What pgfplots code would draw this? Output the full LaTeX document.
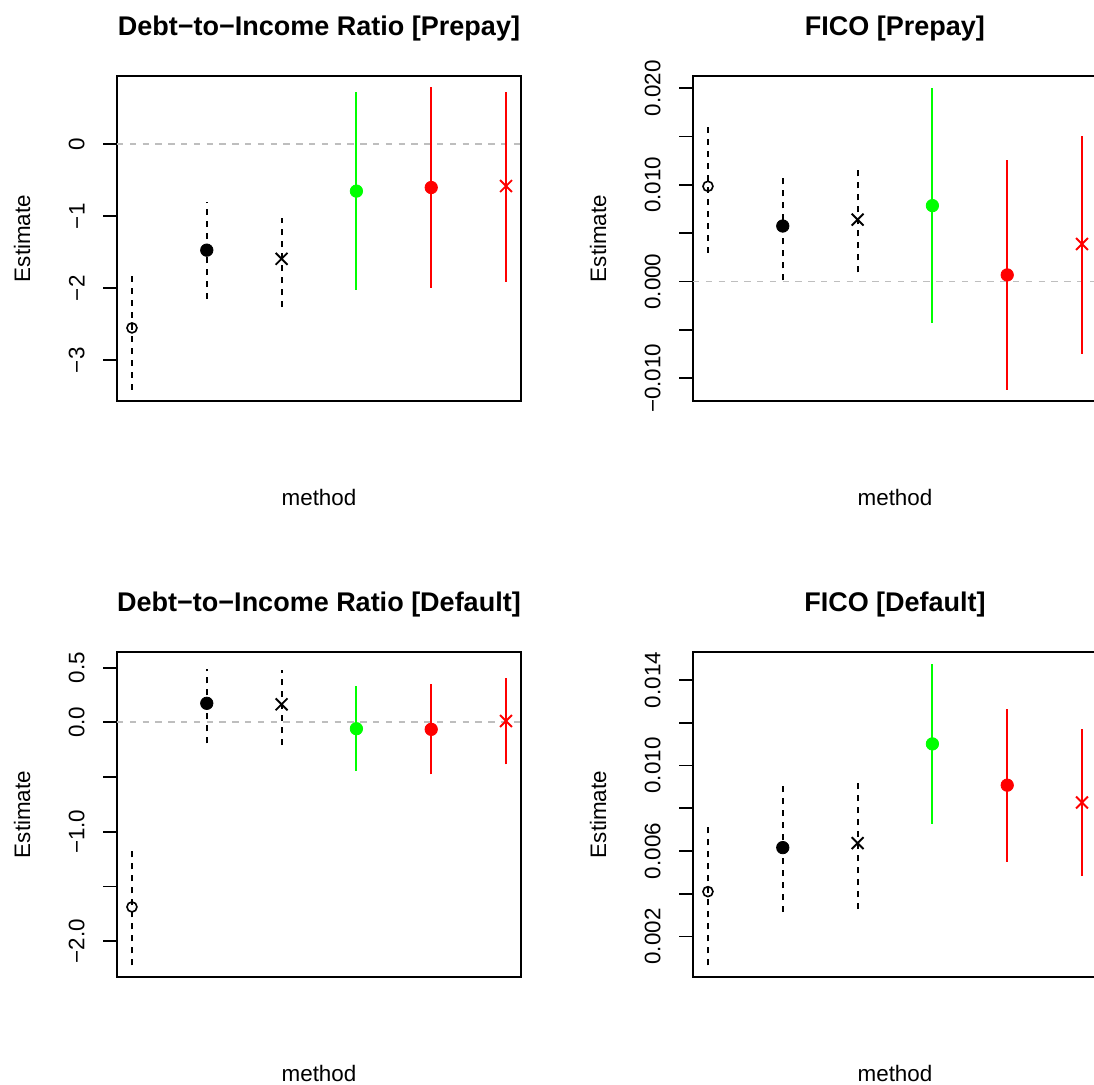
\documentclass[border=0pt]{standalone}
\usepackage{fontspec}
\setmainfont{Liberation Sans}
\usepackage{pgfplots}
\pgfplotsset{compat=1.18}

\definecolor{rgreen}{HTML}{00FF00}
\definecolor{rred}{HTML}{FF0000}
\definecolor{rgray}{HTML}{BEBEBE}

\pgfplotsset{
  rpanel/.style={
    scale only axis, width=202pt, height=162.5pt,
    xmin=0.8, xmax=6.2, xtick=\empty,
    scaled y ticks=false,
    axis line style={line width=1.1pt},
    ytick pos=left, tick align=outside, major tick length=7pt,
    tick style={black, line width=0.9pt},
    yticklabel shift=9pt,
    yticklabel style={rotate=90, anchor=south, inner sep=0pt,
      font=\fontsize{11.2}{13}\selectfont},
    xlabel=method, ylabel=Estimate,
    every axis x label/.style={at={(axis description cs:0.5,-0.298)},
      anchor=center, font=\fontsize{11.2}{13}\selectfont},
    every axis y label/.style={at={(axis description cs:-0.235,0.5)},
      anchor=center, rotate=90, font=\fontsize{11.2}{13}\selectfont},
    title style={at={(axis description cs:0.5,1)}, anchor=base, yshift=14pt,
      font=\fontsize{13.5}{16}\selectfont\bfseries},
  },
  zline/.style={rgray, line width=0.9pt, dash pattern=on 3.2pt off 3.2pt},
  ciblack/.style={black, line width=0.95pt, dash pattern=on 3pt off 3pt},
  cigreen/.style={rgreen, line width=0.95pt},
  cired/.style={rred, line width=0.95pt},
  popen/.style={only marks, black, mark=o, mark size=2.5pt,
    mark options={line width=0.8pt}},
  pdot/.style={only marks, mark=*, mark size=3.1pt, color=#1},
  pcross/.style={only marks, mark=x, mark size=4.2pt, color=#1,
    mark options={line width=0.95pt}},
}

\begin{document}
\begin{tikzpicture}
\useasboundingbox (0,0) rectangle (547pt,542.5pt);

% top left
\begin{axis}[rpanel, at={(58.5pt,342pt)}, anchor=south west,
  title={Debt−to−Income Ratio [Prepay]},
  ymin=-3.565, ymax=0.949,
  ytick={-3,-2,-1,0}, yticklabels={−3,−2,−1,0}]
\addplot[zline] coordinates {(0.8,0) (6.2,0)};
\addplot[ciblack] coordinates {(1,-3.41) (1,-1.80)};
\addplot[ciblack] coordinates {(2,-2.15) (2,-0.80)};
\addplot[ciblack] coordinates {(3,-2.26) (3,-1.02)};
\addplot[cigreen] coordinates {(4,-2.02) (4,0.72)};
\addplot[cired] coordinates {(5,-1.99) (5,0.79)};
\addplot[cired] coordinates {(6,-1.91) (6,0.73)};
\addplot[popen] coordinates {(1,-2.55)};
\addplot[pdot=black] coordinates {(2,-1.47)};
\addplot[pcross=black] coordinates {(3,-1.59)};
\addplot[pdot=rgreen] coordinates {(4,-0.65)};
\addplot[pdot=rred] coordinates {(5,-0.60)};
\addplot[pcross=rred] coordinates {(6,-0.58)};
\end{axis}

% top right
\begin{axis}[rpanel, at={(346.5pt,342pt)}, anchor=south west,
  title={FICO [Prepay]},
  ymin=-0.01235, ymax=0.02127,
  ytick={-0.01,-0.005,0,0.005,0.01,0.015,0.02},
  yticklabels={−0.010,,0.000,,0.010,,0.020}]
\addplot[zline] coordinates {(0.8,0) (6.2,0)};
\addplot[ciblack] coordinates {(1,0.00296) (1,0.01634)};
\addplot[ciblack] coordinates {(2,0.00013) (2,0.01076)};
\addplot[ciblack] coordinates {(3,0.00096) (3,0.01159)};
\addplot[cigreen] coordinates {(4,-0.00428) (4,0.0200)};
\addplot[cired] coordinates {(5,-0.01117) (5,0.01262)};
\addplot[cired] coordinates {(6,-0.00745) (6,0.0151)};
\addplot[popen] coordinates {(1,0.00986)};
\addplot[pdot=black] coordinates {(2,0.00575)};
\addplot[pcross=black] coordinates {(3,0.00641)};
\addplot[pdot=rgreen] coordinates {(4,0.00786)};
\addplot[pdot=rred] coordinates {(5,0.00069)};
\addplot[pcross=rred] coordinates {(6,0.00389)};
\end{axis}

% bottom left
\begin{axis}[rpanel, at={(58.5pt,54pt)}, anchor=south west,
  title={Debt−to−Income Ratio [Default]},
  ymin=-2.327, ymax=0.643,
  ytick={-2,-1.5,-1,-0.5,0,0.5},
  yticklabels={−2.0,,−1.0,,0.0,0.5}]
\addplot[zline] coordinates {(0.8,0) (6.2,0)};
\addplot[ciblack] coordinates {(1,-2.22) (1,-1.159)};
\addplot[ciblack] coordinates {(2,-0.192) (2,0.49)};
\addplot[ciblack] coordinates {(3,-0.208) (3,0.478)};
\addplot[cigreen] coordinates {(4,-0.446) (4,0.329)};
\addplot[cired] coordinates {(5,-0.476) (5,0.348)};
\addplot[cired] coordinates {(6,-0.384) (6,0.408)};
\addplot[popen] coordinates {(1,-1.687)};
\addplot[pdot=black] coordinates {(2,0.174)};
\addplot[pcross=black] coordinates {(3,0.165)};
\addplot[pdot=rgreen] coordinates {(4,-0.058)};
\addplot[pdot=rred] coordinates {(5,-0.064)};
\addplot[pcross=rred] coordinates {(6,0.012)};
\end{axis}

% bottom right
\begin{axis}[rpanel, at={(346.5pt,54pt)}, anchor=south west,
  title={FICO [Default]},
  ymin=0.000108, ymax=0.01531,
  ytick={0.002,0.004,0.006,0.008,0.010,0.012,0.014},
  yticklabels={0.002,,0.006,,0.010,,0.014}]
\addplot[ciblack] coordinates {(1,0.000646) (1,0.00733)};
\addplot[ciblack] coordinates {(2,0.00314) (2,0.00916)};
\addplot[ciblack] coordinates {(3,0.00328) (3,0.00934)};
\addplot[cigreen] coordinates {(4,0.00728) (4,0.01474)};
\addplot[cired] coordinates {(5,0.00550) (5,0.01265)};
\addplot[cired] coordinates {(6,0.00483) (6,0.01173)};
\addplot[popen] coordinates {(1,0.00410)};
\addplot[pdot=black] coordinates {(2,0.00616)};
\addplot[pcross=black] coordinates {(3,0.00637)};
\addplot[pdot=rgreen] coordinates {(4,0.01101)};
\addplot[pdot=rred] coordinates {(5,0.00908)};
\addplot[pcross=rred] coordinates {(6,0.00827)};
\end{axis}
\end{tikzpicture}
\end{document}
